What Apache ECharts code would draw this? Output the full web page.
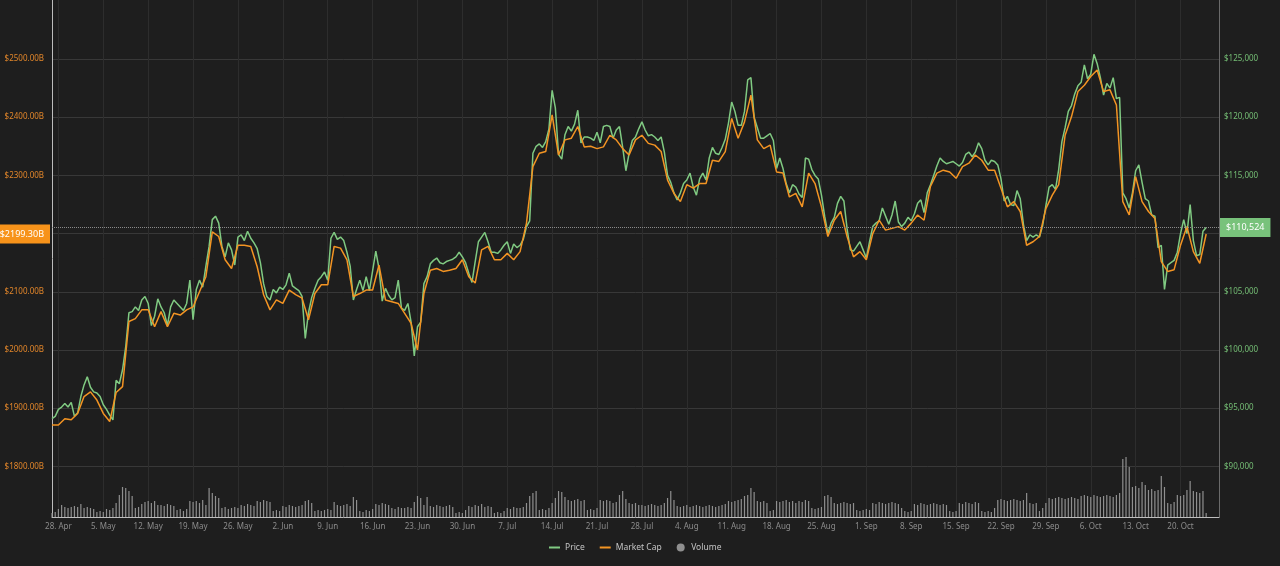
<!DOCTYPE html>
<html>
<head>
<meta charset="utf-8">
<script src="https://cdn.jsdelivr.net/npm/echarts@6/dist/echarts.min.js"></script>
<style>
html,body{margin:0;padding:0;background:#1e1e1e;}
#chart{width:1280px;height:566px;}
</style>
</head>
<body>
<div id="chart"></div>
<script>
// ---- time slots: 12-hourly, starting 27 Apr 2025 00:00 UTC ----
const startUTC = Date.UTC(2025, 3, 27);
const slotCount = 365;
const monthNames = ['Jan','Feb','Mar','Apr','May','Jun','Jul','Aug','Sep','Oct','Nov','Dec'];

// ---- Price (USD thousands), 12-hourly ----
const priceK = [
  94.1, 94.3, 94.9, 95.1, 95.4, 95.1, 95.5, 94.3, 94.6, 96.0,
  97.0, 97.7, 96.8, 96.4, 96.3, 96.0, 95.3, 94.9, 94.4, 94.0,
  97.4, 97.1, 98.3, 100.3, 103.2, 103.3, 103.7, 103.4, 104.3, 104.6,
  104.0, 102.1, 102.9, 104.4, 103.7, 103.2, 102.1, 103.7, 104.3, 104.0,
  103.7, 103.4, 104.0, 106.0, 102.6, 105.2, 106.0, 105.4, 107.2, 108.9,
  111.2, 111.5, 110.9, 108.9, 108.0, 109.2, 108.6, 107.3, 109.7, 109.9,
  109.4, 110.2, 109.6, 109.2, 108.7, 107.5, 105.7, 104.6, 104.3, 105.2,
  104.9, 105.4, 105.2,
  105.6, 106.6, 105.5, 105.3, 105.1, 104.6, 101.0, 103.2, 104.5, 105.3,
  106.0, 106.3, 106.7, 106.0, 109.6, 110.1, 109.5, 109.7, 109.4, 108.4,
  107.2, 104.3, 105.2, 106.0, 105.1, 106.3, 105.1, 106.8, 108.5, 107.0,
  104.2, 105.3, 104.7, 104.3, 104.5, 106.0, 103.6, 103.4, 104.0, 102.4,
  99.5, 102.0, 102.4, 105.7, 106.3, 107.4, 107.7, 107.9, 107.5, 107.4,
  107.6, 107.7, 107.8, 108.0, 108.4, 108.0, 107.5, 106.6, 105.8, 107.6,
  109.3, 109.7, 110.1, 109.3, 108.4, 108.4, 108.3, 108.6, 109.0, 109.3,
  108.3, 109.1, 108.8,
  109.0, 109.5, 110.6, 111.1, 116.9, 117.5, 117.7, 117.4, 117.9, 119.0,
  122.3, 120.8, 116.8, 116.4, 118.5, 119.2, 118.8, 119.4, 120.6, 117.8,
  118.3, 118.3, 118.2, 118.0, 118.7, 117.8, 119.2, 119.3, 119.2, 118.2,
  118.9, 119.2, 117.4, 115.4, 116.9, 118.0, 118.3, 119.0, 119.6, 118.9,
  118.4, 118.5, 118.3, 118.0, 118.3, 117.0, 115.0, 114.4, 113.5, 112.9,
  113.5, 114.3, 114.6, 115.2, 114.0, 113.3, 114.7, 115.2, 114.6, 116.5,
  117.4, 116.9, 116.8, 117.4, 118.1, 119.5, 121.3, 120.5, 119.3, 119.3,
  120.5, 123.2, 123.4,
  120.0, 119.1, 118.2, 118.2, 118.4, 118.6, 118.0, 115.6, 116.5, 115.6,
  114.3, 113.5, 114.2, 114.0, 113.4, 113.1, 116.5, 116.4, 115.5, 115.0,
  114.7, 113.3, 111.5, 110.0, 110.9, 111.4, 112.6, 113.2, 112.8, 110.4,
  108.6, 108.5, 108.9, 109.3, 108.6, 107.9, 109.3, 110.6, 110.9, 111.1,
  112.2, 111.5, 110.8, 111.6, 112.8, 111.0, 110.6, 110.9, 111.4, 111.1,
  111.7, 112.6, 112.9, 111.8, 113.5, 114.2, 115.0, 115.8, 116.5, 116.2,
  116.0, 116.1, 116.2, 116.0, 115.8, 116.1, 116.8, 117.0, 116.6, 117.0,
  117.8, 117.3, 116.3, 115.9,
  116.3, 116.2, 115.9, 114.7, 112.8, 113.2, 112.5, 112.4, 113.7, 113.0,
  110.8, 109.4, 109.9, 109.7, 109.9, 109.7, 110.7, 112.4, 114.0, 114.2,
  113.8, 115.5, 117.9, 119.1, 120.5, 121.0, 122.0, 122.7, 123.0, 124.5,
  123.3, 123.7, 125.4, 124.6, 123.4, 121.9, 122.9, 122.5, 123.4, 121.6,
  121.7, 113.5, 113.0, 112.2, 113.5, 115.4, 115.9, 114.4, 113.0, 112.8,
  111.6, 111.5, 108.8, 109.0, 105.2, 107.3, 107.5, 107.7, 108.4, 110.0,
  111.2, 110.0, 112.5, 109.4, 108.1, 108.2, 110.2, 110.524
];

// ---- Market cap (USD billions), daily ----
const marketCapB = [
  1871, 1871, 1882, 1880, 1891, 1920, 1928, 1914, 1891, 1877,
  1927, 1937, 2049, 2054, 2069, 2069, 2040, 2066, 2040, 2063,
  2060, 2069, 2074, 2100, 2126, 2203, 2195, 2155, 2140, 2180,
  2180, 2178, 2143, 2095, 2069, 2086, 2080,
  2103, 2095, 2089, 2052, 2097, 2112, 2112, 2178, 2175, 2155,
  2092, 2097, 2103, 2103, 2146, 2086, 2083, 2080, 2063, 2046,
  2000, 2097, 2137, 2140, 2135, 2137, 2140, 2155, 2126, 2115,
  2172, 2178, 2155, 2155, 2166, 2155,
  2169, 2218, 2315, 2338, 2341, 2404, 2335, 2361, 2364, 2384,
  2349, 2350, 2346, 2349, 2369, 2361, 2346, 2335, 2361, 2369,
  2355, 2352, 2341, 2292, 2269, 2255, 2284, 2278, 2286, 2286,
  2326, 2324, 2341, 2398, 2364, 2392, 2438,
  2361, 2346, 2352, 2306, 2304, 2263, 2269, 2246, 2304, 2286,
  2246, 2195, 2223, 2238, 2195, 2160, 2169, 2155, 2200, 2223,
  2206, 2209, 2212, 2206, 2218, 2232, 2223, 2281, 2304, 2309,
  2306, 2295, 2315, 2321, 2335, 2326, 2309,
  2309, 2278, 2246, 2255, 2238, 2180, 2186, 2195, 2243, 2266,
  2284, 2369, 2401, 2444, 2455, 2470, 2481, 2444, 2447, 2421,
  2255, 2232, 2298, 2255, 2238, 2226, 2152, 2135, 2138, 2180,
  2212, 2169, 2149, 2199.3
];

// ---- Volume (USD billions), 12-hourly ----
const volumeB = [
  8,10,16,24,20,18,20,22,20,26, 18,20,18,16,10,12,10,16,14,18,
  28,44,60,58,52,42,18,20,26,30, 32,28,32,24,24,22,26,24,22,14,
  16,12,16,32,30,32,28,34,24,58, 48,42,38,18,20,16,18,20,18,24,
  22,26,24,22,32,30,34,32,30,12, 14,12,22,20,24,22,20,22,24,32,
  34,28,12,14,12,14,16,14,30,24, 22,24,26,22,40,34,12,10,14,12,
  16,26,24,28,26,24,18,16,20,18, 18,20,18,30,42,38,24,40,22,20,
  24,22,20,22,24,20,8,10,8,14, 22,20,24,22,26,20,22,20,8,10,
  8,12,18,16,20,18,18,20,28,42, 48,52,14,16,14,18,28,38,52,50,
  40,34,32,34,36,32,34,14,16,14, 18,34,32,34,32,28,30,44,52,36,
  28,26,28,24,24,22,24,26,24,22, 24,28,38,52,34,22,20,22,24,20,
  22,24,22,20,22,24,22,20,22,24, 26,32,30,32,34,36,42,44,58,50,
  32,30,32,28,12,14,32,30,32,34, 30,32,28,32,30,34,32,18,16,18,
  20,42,44,40,28,26,28,30,28,26, 28,14,12,14,16,14,28,26,30,28,
  26,28,30,28,26,18,12,10,12,26, 24,28,26,24,26,28,26,24,26,24,
  12,10,12,28,26,30,28,26,30,28, 12,10,12,10,18,34,36,34,32,34,
  36,34,32,34,48,28,26,28,12,18, 28,38,36,38,40,38,36,38,40,38,
  36,42,44,42,40,44,42,40,42,44, 42,40,44,48,116,120,100,60,62,58,
  70,64,54,56,52,54,82,60,28,26, 30,44,42,44,54,72,52,50,48,52,
  8
];

const currentPriceK = 110.524;
const currentMcapB = 2199.3;

// ---- build category axis & aligned series ----
const slots = [];
for (let i = 0; i < slotCount; i++) slots.push(String(startUTC + i * 43200000));
const isMonday = (idx) => idx % 14 === 2;
const fmtDate = (v) => { const d = new Date(Number(v)); return d.getUTCDate() + '. ' + monthNames[d.getUTCMonth()]; };

const priceData = slots.map((_, i) => i < priceK.length ? priceK[i] : null);
const mcapData = slots.map((_, i) => (i % 2 === 0 && (i / 2) < marketCapB.length) ? marketCapB[i / 2] : null);
const volData = slots.map((_, i) => i < volumeB.length ? volumeB[i] : null);

const GREEN = '#80ca82';
const ORANGE = '#f39423';
const FONT = 'Noto Sans, sans-serif';

const chart = echarts.init(document.getElementById('chart'), null, { renderer: 'canvas' });
chart.setOption({
  backgroundColor: '#1e1e1e',
  animation: false,
  textStyle: { fontFamily: FONT },
  legend: {
    top: 538, left: 544,
    itemWidth: 11, itemHeight: 8, itemGap: 15,
    textStyle: { color: '#c4c4c4', fontSize: 8.5, fontFamily: FONT },
    data: [
      { name: 'Price', icon: 'path://M0,0H11V2H0Z' },
      { name: 'Market Cap', icon: 'path://M0,0H11V2H0Z' },
      { name: 'Volume', icon: 'circle' }
    ]
  },
  grid: [
    { left: 52, right: 61, top: 0.8, height: 523.8 },
    { left: 52, right: 61, top: 0, height: 517 }
  ],
  xAxis: [
    { type: 'category', gridIndex: 0, data: slots, boundaryGap: false, show: false },
    {
      type: 'category', gridIndex: 1, data: slots, boundaryGap: false,
      axisLine: { show: true, lineStyle: { color: '#bdbdbd', width: 1 } },
      axisTick: { show: false },
      axisLabel: { interval: (i) => isMonday(i), formatter: fmtDate, color: '#8c8c8c', fontSize: 8, margin: 6 },
      splitLine: { show: true, interval: (i) => isMonday(i), lineStyle: { color: '#2d2d2d', width: 1 } }
    }
  ],
  yAxis: [
    {
      type: 'value', gridIndex: 0, position: 'left', min: 1700, max: 2600, interval: 100,
      axisLine: { show: false }, axisTick: { show: false }, splitLine: { show: false },
      axisLabel: {
        color: '#e2862a', fontSize: 8, margin: 8, showMinLabel: false, showMaxLabel: false,
        formatter: (v) => v === 2200 ? '' : '$' + v.toFixed(2) + 'B'
      }
    },
    {
      type: 'value', gridIndex: 0, position: 'right', min: 85, max: 130, interval: 5,
      axisLine: { show: false }, axisTick: { show: false },
      splitLine: { show: true, showMinLine: false, showMaxLine: false, lineStyle: { color: '#383838', width: 1 } },
      axisLabel: {
        color: '#74bd74', fontSize: 8, margin: 5, showMinLabel: false, showMaxLabel: false,
        formatter: (v) => v === 110 ? '' : '$' + (v * 1000).toLocaleString('en-US')
      }
    },
    {
      type: 'value', gridIndex: 1, position: 'left', min: 0, max: 1034,
      axisLine: { show: true, lineStyle: { color: '#bdbdbd', width: 1 } },
      axisTick: { show: false }, axisLabel: { show: false }, splitLine: { show: false }
    },
    {
      type: 'value', gridIndex: 1, position: 'right', min: 0, max: 1,
      axisLine: { show: true, lineStyle: { color: '#6a6a6a', width: 1 } },
      axisTick: { show: false }, axisLabel: { show: false }, splitLine: { show: false }
    }
  ],
  series: [
    {
      name: 'Volume', type: 'bar', xAxisIndex: 1, yAxisIndex: 2, data: volData,
      barWidth: 1.2, itemStyle: { color: '#8f8f8f' }, silent: true
    },
    {
      name: 'Price', type: 'line', xAxisIndex: 0, yAxisIndex: 1, data: priceData,
      symbol: 'none', showSymbol: false, lineStyle: { color: GREEN, width: 1.5 }, itemStyle: { color: GREEN },
      markLine: {
        silent: true, symbol: ['none', 'none'],
        lineStyle: { color: '#8a8a8a', type: 'dotted', width: 1 },
        label: {
          show: true, position: 'end', distance: 1, formatter: '$110,524',
          color: '#ffffff', backgroundColor: '#78c27b', padding: [5, 6], fontSize: 9, fontFamily: FONT
        },
        data: [{ yAxis: currentPriceK }]
      }
    },
    {
      name: 'Market Cap', type: 'line', xAxisIndex: 0, yAxisIndex: 0, data: mcapData, connectNulls: true,
      symbol: 'none', showSymbol: false, lineStyle: { color: ORANGE, width: 1.5 }, itemStyle: { color: ORANGE },
      markLine: {
        silent: true, symbol: ['none', 'none'],
        lineStyle: { color: 'rgba(0,0,0,0)', type: 'solid', width: 1 },
        label: {
          show: true, position: 'start', distance: 2, formatter: '$2199.30B',
          color: '#ffffff', backgroundColor: '#f7931a', padding: [5, 6], fontSize: 9, fontFamily: FONT
        },
        data: [{ yAxis: currentMcapB }]
      }
    }
  ]
});
</script>
</body>
</html>
